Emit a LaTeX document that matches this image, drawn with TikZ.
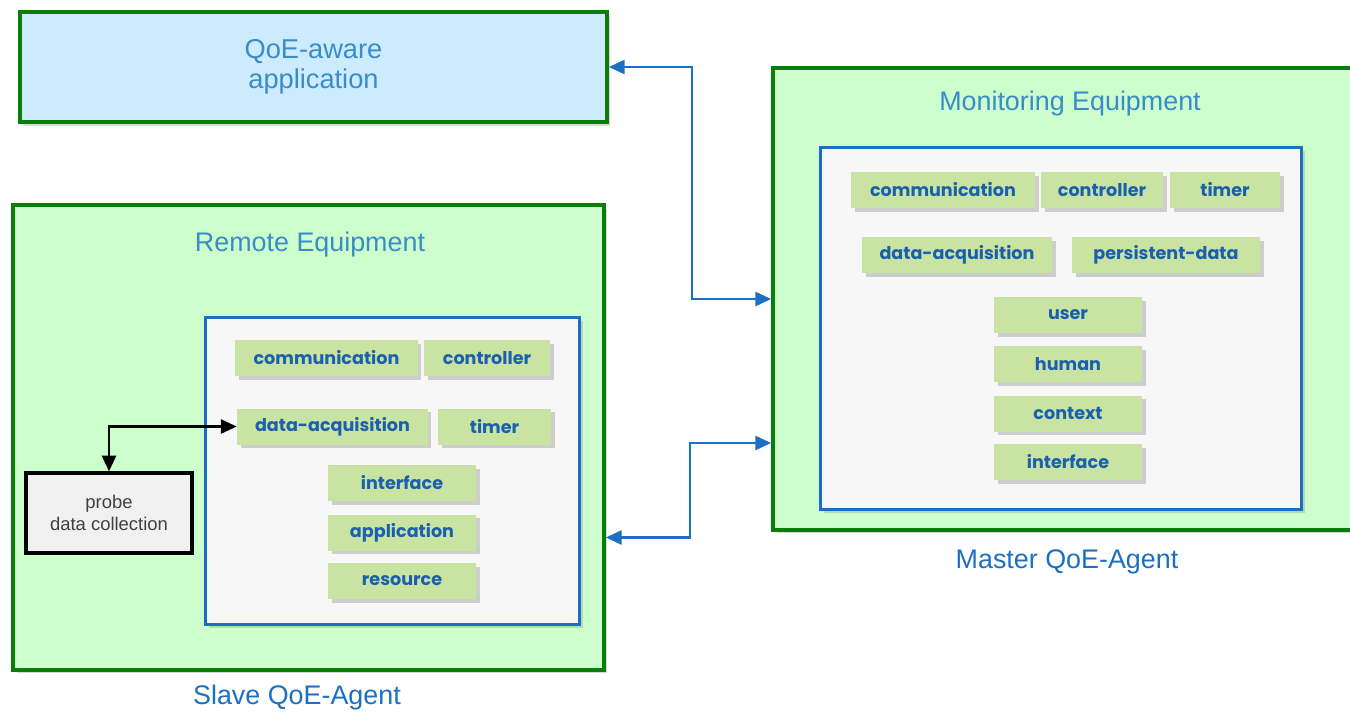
\documentclass[tikz,border=0pt]{standalone}
\usepackage{fontspec}
\setmainfont{Liberation Sans}
\newfontfamily\modfont{Poppins}
\usepackage{tikz}
\usetikzlibrary{shapes,positioning,shadows,arrows.meta}

\definecolor{boxgreen}{HTML}{CCFFCC}
\definecolor{edgegreen}{HTML}{0B7D0B}
\definecolor{appblue}{HTML}{CCEBFF}
\definecolor{innerblue}{HTML}{1A6FC4}
\definecolor{modfill}{HTML}{C8E3A2}
\definecolor{modtext}{HTML}{1B5FAF}
\definecolor{titleblue}{HTML}{3A8CC9}
\definecolor{linkblue}{HTML}{1B70C4}

\begin{document}
\begin{tikzpicture}[x=0.02cm, y=-0.02cm,
  outer/.style={draw=edgegreen, line width=2.2pt, fill=boxgreen, rectangle,
    drop shadow={opacity=0.3, shadow xshift=2pt, shadow yshift=-2pt}},
  inner/.style={draw=innerblue, line width=1.7pt, fill=black!3, rectangle,
    drop shadow={opacity=0.3, shadow xshift=2pt, shadow yshift=-2pt}},
  module/.style={fill=modfill, minimum height=0.72cm, inner sep=0pt,
    font=\modfont\bfseries\fontsize{10}{12}\selectfont, text=modtext,
    drop shadow={opacity=0.35, shadow xshift=2pt, shadow yshift=-2pt}},
  title/.style={text=titleblue, font=\fontsize{15.3}{17}\selectfont},
  link/.style={draw=linkblue, line width=1.4pt, {Triangle[length=9pt,width=8pt]}-{Triangle[length=9pt,width=8pt]}},
  probelink/.style={draw=black, line width=1.4pt, {Triangle[length=9pt,width=8pt]}-{Triangle[length=9pt,width=8pt]}}]
  \clip (0,0) rectangle (1350,714);

  \node (app) [outer, fill=appblue, minimum width=11.74cm, minimum height=2.2cm]
    at (313.5,67) {};
  \node [text=titleblue, align=center, font=\fontsize{15.5}{17}\selectfont]
    at (app.center) {QoE-aware\\application};

  % master agent
  \node (master) [outer, minimum width=11.8cm, minimum height=9.24cm] at (1068,299) {};
  \node (mtitle) [title] at (1070,104) {Monitoring Equipment};
  \node (minner) [inner, minimum width=9.64cm, minimum height=7.26cm] at (1061,328.5) {};
  \node (mcomm) [module, minimum width=3.68cm] at (943,190) {communication};
  \node (mctrl) [module, minimum width=2.44cm] at (1102,190) {controller};
  \node (mtimer) [module, minimum width=2.2cm] at (1225,190) {timer};
  \node (mdata) [module, minimum width=3.8cm] at (957,255) {data-acquisition};
  \node (mpers) [module, minimum width=3.76cm] at (1166,255) {persistent-data};
  \node (muser) [module, minimum width=2.96cm] at (1068,315) {user};
  \node (mhuman) [module, minimum width=2.96cm] at (1068,364) {human};
  \node (mcontext) [module, minimum width=2.96cm] at (1068,413.5) {context};
  \node (minterface) [module, minimum width=2.96cm] at (1068,462) {interface};
  \node (mlabel) [title, text=linkblue] at (1067,562) {Master QoE-Agent};

  % slave agent
  \node (slave) [outer, minimum width=11.82cm, minimum height=9.3cm] at (308.5,437.5) {};
  \node (stitle) [title] at (310,245) {Remote Equipment};
  \node (sinner) [inner, minimum width=7.5cm, minimum height=6.16cm] at (392.5,471) {};
  \node (scomm) [module, minimum width=3.66cm] at (326.5,358) {communication};
  \node (sctrl) [module, minimum width=2.52cm] at (487,358) {controller};
  \node (sdata) [module, minimum width=3.82cm] at (332.5,426.5) {data-acquisition};
  \node (stimer) [module, minimum width=2.26cm] at (494.5,426.5) {timer};
  \node (sinterface) [module, minimum width=2.96cm] at (402,483) {interface};
  \node (sapp) [module, minimum width=2.96cm] at (402,532.5) {application};
  \node (sres) [module, minimum width=2.96cm] at (402,581) {resource};
  \node (probe) [draw=black, line width=1.8pt, fill=black!6, minimum width=3.32cm,
    minimum height=1.6cm, align=center, text=black!75,
    font=\fontsize{10.5}{12.5}\selectfont] at (109,513) {probe\\data collection};
  \node (slabel) [title, text=linkblue] at (297,698) {Slave QoE-Agent};

  \draw[probelink] (probe.north) |- (sdata.west);
  \draw[link] (app.east) -- ++(83,0) |- (master.west);
  \draw[link] ([yshift=-2cm]slave.east) -- ++(84,0) |- ([yshift=-2.88cm]master.west);
\end{tikzpicture}
\end{document}
